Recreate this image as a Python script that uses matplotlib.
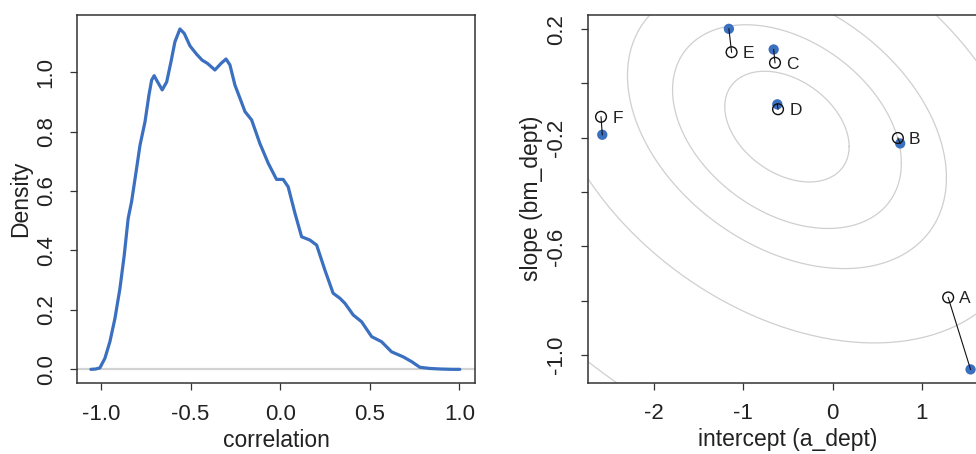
import numpy as np
import matplotlib
matplotlib.use("Agg")
import matplotlib.pyplot as plt

plt.rcParams['font.family'] = ['Liberation Sans', 'DejaVu Sans']
plt.rcParams['axes.unicode_minus'] = False

BLUE = '#3b6fbf'
DARK = '#333333'
GREY = '#d2d2d2'

# posterior density of the correlation
corr = [-1.056, -1.030, -1.006, -0.978, -0.950, -0.922, -0.894, -0.870, -0.848,
        -0.829, -0.801, -0.782, -0.754, -0.732, -0.717, -0.703, -0.684, -0.658,
        -0.633, -0.609, -0.587, -0.559, -0.535, -0.503, -0.466, -0.435, -0.405,
        -0.364, -0.330, -0.302, -0.280, -0.252, -0.224, -0.196, -0.159, -0.113,
        -0.066, -0.020, 0.017, 0.045, 0.083, 0.120, 0.166, 0.204, 0.250,
        0.296, 0.334, 0.362, 0.408, 0.455, 0.511, 0.566, 0.622, 0.687,
        0.734, 0.780, 0.836, 0.900, 0.960, 1.003]
dens = [0.000, 0.001, 0.005, 0.037, 0.093, 0.171, 0.272, 0.384, 0.508,
        0.564, 0.676, 0.754, 0.833, 0.923, 0.973, 0.988, 0.967, 0.940,
        0.967, 1.035, 1.102, 1.145, 1.130, 1.088, 1.060, 1.040, 1.029,
        1.007, 1.029, 1.044, 1.024, 0.956, 0.912, 0.867, 0.839, 0.760,
        0.693, 0.639, 0.639, 0.614, 0.525, 0.446, 0.435, 0.418, 0.334,
        0.256, 0.239, 0.222, 0.183, 0.160, 0.110, 0.093, 0.059, 0.042,
        0.026, 0.007, 0.003, 0.001, 0.000, 0.000]

depts = ['A', 'B', 'C', 'D', 'E', 'F']
# unpooled estimates (filled blue)
a_raw = [1.547, 0.758, -0.661, -0.620, -1.163, -2.583]
b_raw = [-1.053, -0.221, 0.125, -0.077, 0.201, -0.189]
# varying effects estimates (open)
a_post = [1.296, 0.732, -0.646, -0.612, -1.133, -2.597]
b_post = [-0.788, -0.201, 0.076, -0.095, 0.115, -0.123]

# population distribution
mu = [-0.512, -0.159]
sigma = [1.519, 0.444]
rho = -0.36
levels = [0.1, 0.3, 0.5, 0.8, 0.99]


def style(ax):
    for s in ax.spines.values():
        s.set_color(DARK)
        s.set_linewidth(1.1)
    ax.tick_params(direction='out', length=5.3, width=0.9, color=DARK,
                   labelsize=16, pad=9.5, labelcolor='#222222')


fig = plt.figure(figsize=(9.76, 4.54), dpi=100)

# left: density of correlation
ax1 = fig.add_axes([0.0792, 0.1557, 0.4075, 0.8119])
style(ax1)
ax1.axhline(0, color=GREY, lw=1.6, zorder=1)
ax1.plot(corr, dens, color=BLUE, lw=2.3, solid_capstyle='round',
         solid_joinstyle='round', zorder=2)
ax1.set_xlim(-1.132, 1.088)
ax1.set_ylim(-0.047, 1.193)
ax1.set_xticks([-1.0, -0.5, 0.0, 0.5, 1.0], ['-1.0', '-0.5', '0.0', '0.5', '1.0'])
yt = [0.0, 0.2, 0.4, 0.6, 0.8, 1.0]
ax1.set_yticks(yt, ['%.1f' % v for v in yt], rotation=90, va='center')
ax1.set_xlabel('correlation', fontsize=16.5, color='#222222')
ax1.set_ylabel('Density', fontsize=16.5, color='#222222')
ax1.xaxis.set_label_coords(0.5, -0.124)
ax1.yaxis.set_label_coords(-0.114, 0.5)

# right: shrinkage in intercept/slope space
ax2 = fig.add_axes([0.6021, 0.157, 401 / 976, 0.8106])
style(ax2)
t = np.linspace(0, 2 * np.pi, 300)
cov = np.array([[sigma[0] ** 2, rho * sigma[0] * sigma[1]],
                [rho * sigma[0] * sigma[1], sigma[1] ** 2]])
L = np.linalg.cholesky(cov)
for l in levels:
    r = np.sqrt(-2 * np.log(1 - l))
    pts = L @ np.vstack([r * np.cos(t), r * np.sin(t)])
    ax2.plot(pts[0] + mu[0], pts[1] + mu[1], color='#cfcfcf', lw=0.9, zorder=1)

for i in range(len(depts)):
    ax2.plot([a_raw[i], a_post[i]], [b_raw[i], b_post[i]], color='#111111', lw=0.8, zorder=4)
ax2.scatter(a_raw, b_raw, s=55, color=BLUE, edgecolors='none', zorder=3)
ax2.scatter(a_post, b_post, s=60, facecolors='none', edgecolors='#111111',
            linewidths=1.0, zorder=5)
for i, d in enumerate(depts):
    ax2.annotate(d, (a_post[i], b_post[i]), xytext=(8, -4.3), textcoords='offset points',
                 ha='left', va='baseline', fontsize=12.5, color='#222222')

ax2.set_xlim(-2.747, 1.75)
ax2.set_ylim(-1.102, 0.253)
ax2.set_xticks([-2, -1, 0, 1], ['-2', '-1', '0', '1'])
yt2 = [-1.0, -0.8, -0.6, -0.4, -0.2, 0.0, 0.2]
lab2 = ['-1.0', '', '-0.6', '', '-0.2', '', '0.2']
ax2.set_yticks(yt2, lab2, rotation=90, va='center')
ax2.set_xlabel('intercept (a_dept)', fontsize=16.5, color='#222222')
ax2.set_ylabel('slope (bm_dept)', fontsize=16.5, color='#222222')
ax2.xaxis.set_label_coords(0.5, -0.124)
ax2.yaxis.set_label_coords(-0.111, 0.5)

fig.savefig('out.png', dpi=100)
